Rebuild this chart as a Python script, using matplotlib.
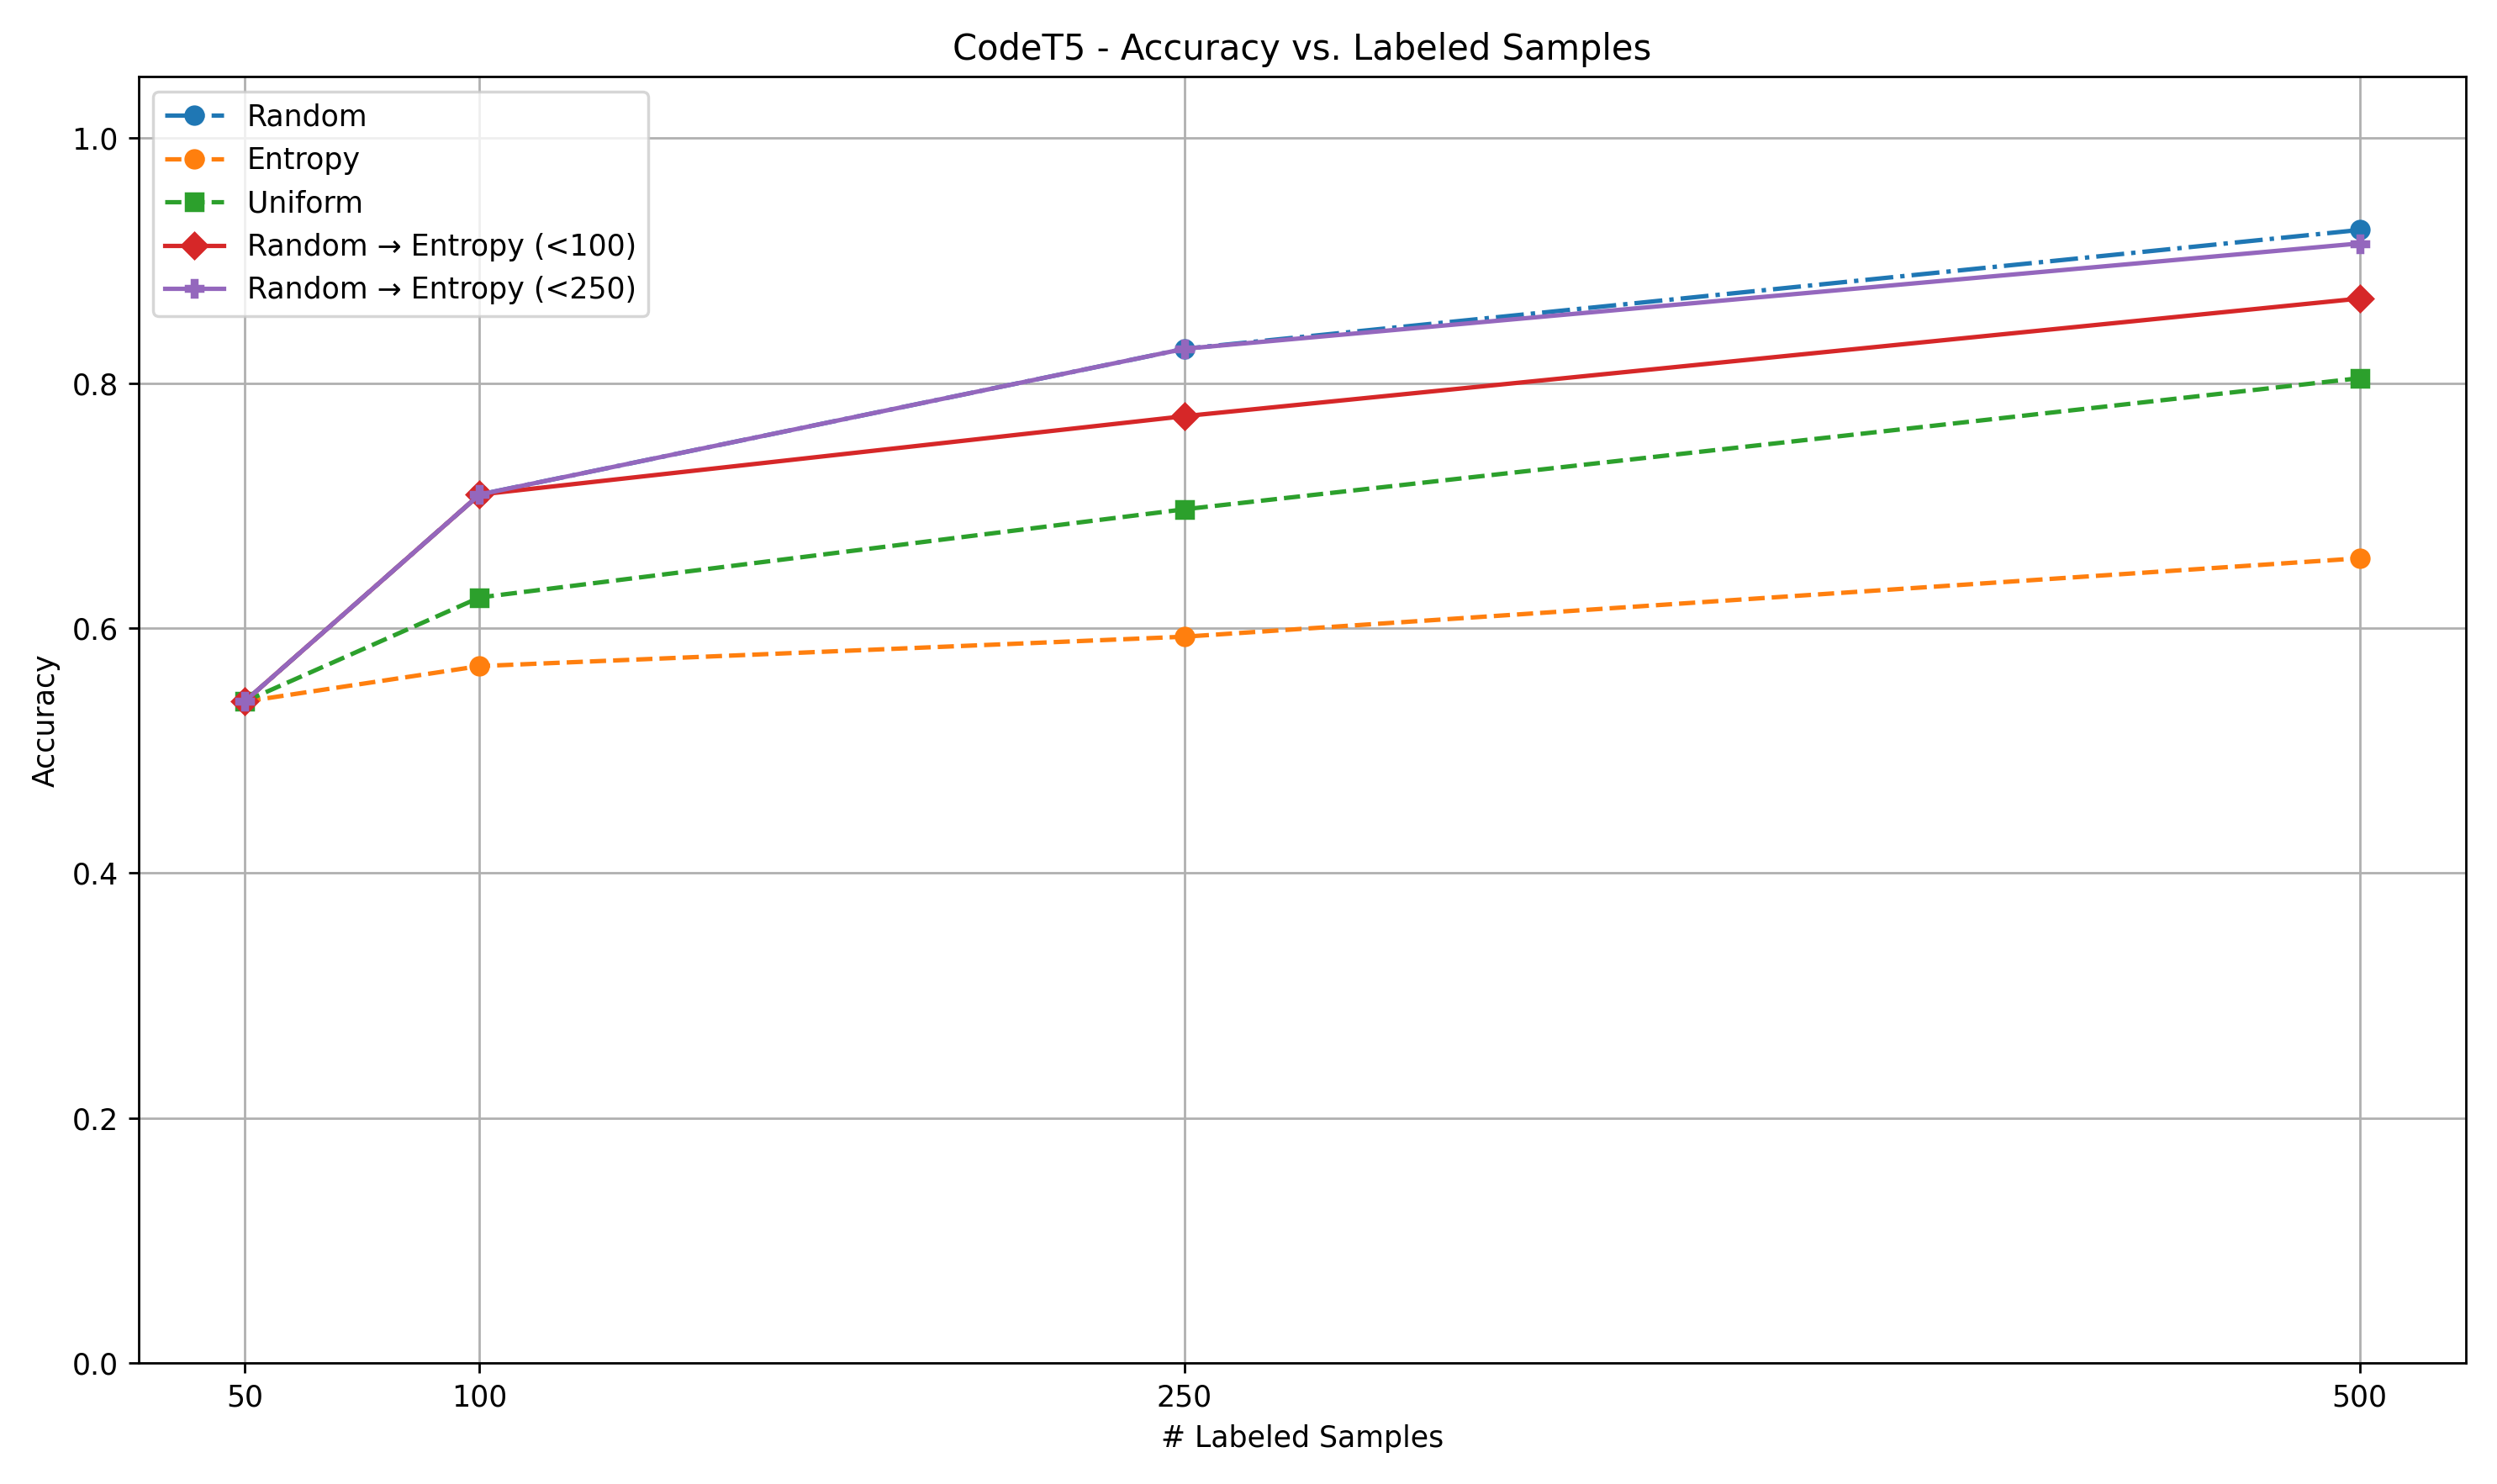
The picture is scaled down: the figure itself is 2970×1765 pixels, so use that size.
import matplotlib
matplotlib.use('Agg')
import matplotlib.pyplot as plt

samples = [50, 100, 250, 500]
random_acc = [0.540, 0.709, 0.828, 0.925]
entropy_acc = [0.540, 0.569, 0.593, 0.657]
uniform_acc = [0.540, 0.625, 0.697, 0.804]
r2e_100_acc = [0.540, 0.709, 0.773, 0.869]
r2e_250_acc = [0.540, 0.709, 0.828, 0.914]

fig = plt.figure(figsize=(11.88, 7.06), dpi=250)

plt.plot(samples, random_acc, marker='o', linestyle='-.', label='Random')
plt.plot(samples, entropy_acc, marker='o', linestyle='--', label='Entropy')
plt.plot(samples, uniform_acc, marker='s', linestyle='--', label='Uniform')
plt.plot(samples, r2e_100_acc, marker='D', linestyle='-', label='Random → Entropy (<100)')
plt.plot(samples, r2e_250_acc, marker='P', linestyle='-', label='Random → Entropy (<250)')

plt.xlabel('# Labeled Samples')
plt.ylabel('Accuracy')
plt.title('CodeT5 - Accuracy vs. Labeled Samples')
plt.xticks(samples)
plt.ylim(0, 1.05)
plt.legend(loc='upper left')
plt.grid(True)

plt.tight_layout()
plt.savefig('out.png', dpi=250)
